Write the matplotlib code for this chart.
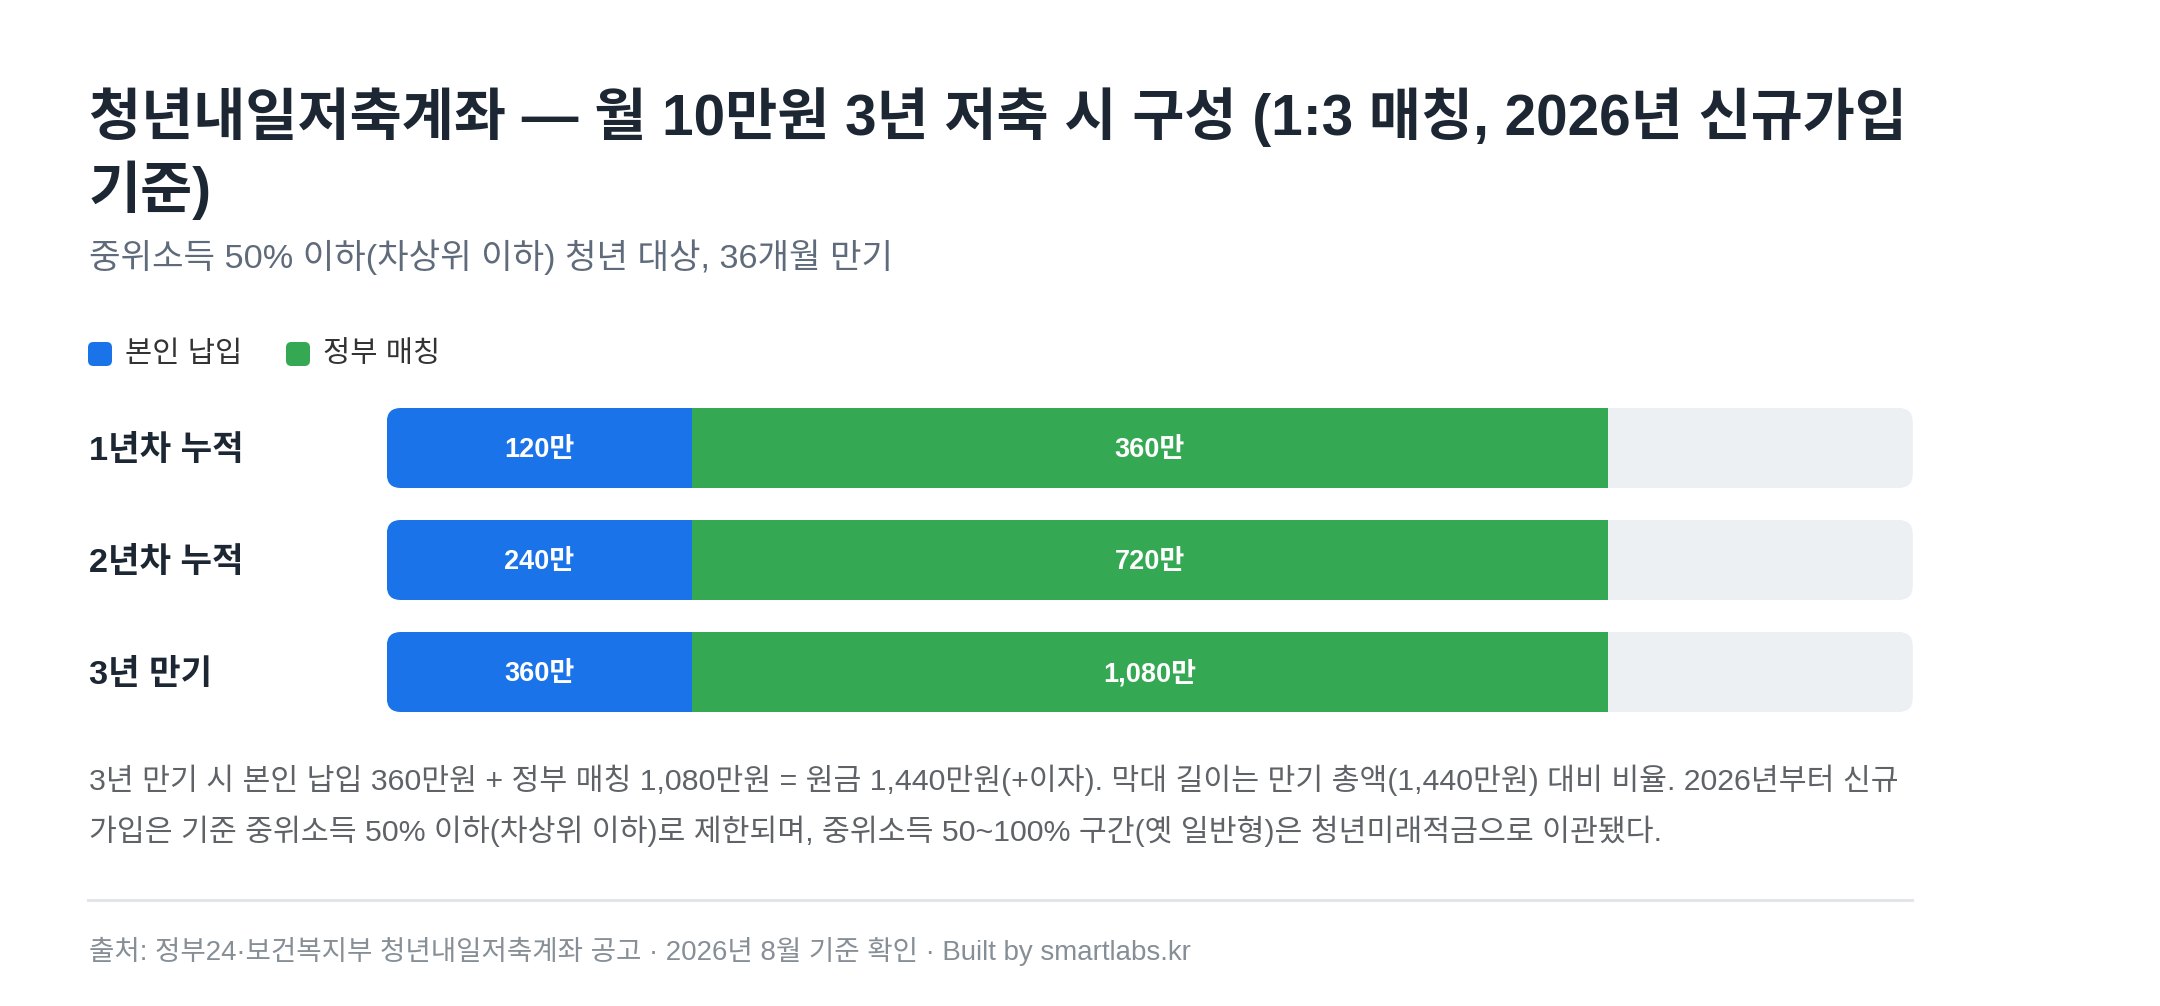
import matplotlib
matplotlib.use("Agg")
import matplotlib.pyplot as plt
from matplotlib.patches import FancyBboxPatch
from matplotlib.transforms import blended_transform_factory

# latin glyphs from Liberation Sans (wider spaces), hangul falls back to Noto Sans CJK KR
plt.rcParams['font.family'] = ['Liberation Sans', 'Noto Sans CJK KR', 'DejaVu Sans']

# data
rows = ["1년차 누적", "2년차 누적", "3년 만기"]
self_amount = ["120만", "240만", "360만"]
gov_amount = ["360만", "720만", "1,080만"]
# segment length as % of the track
self_pct = [20, 20, 20]
gov_pct = [60, 60, 60]
legend_labels = ["본인 납입", "정부 매칭"]

blue = "#1a73e8"
green = "#34a853"
track = "#edf0f3"
dark = "#1c2733"

W, H = 2160, 1006
fig = plt.figure(figsize=(W / 100, H / 100), dpi=100)
fig.patch.set_facecolor("white")

def fx(px):
    return px / W

def fy(py):
    return 1 - py / H

# title, subtitle
fig.text(fx(89), fy(117), "청년내일저축계좌 — 월 10만원 3년 저축 시 구성 (1:3 매칭, 2026년 신규가입",
         fontsize=40.8, fontweight="bold", color=dark, va="center")
fig.text(fx(89), fy(190), "기준)", fontsize=40.8, fontweight="bold", color=dark, va="center")
fig.text(fx(89), fy(257), "중위소득 50% 이하(차상위 이하) 청년 대상, 36개월 만기",
         fontsize=24.7, color="#5f6b7a", va="center")

# legend
lx = [88, 286]
for i in range(2):
    sq = FancyBboxPatch((fx(lx[i]), fy(366)), fx(24), 24 / H,
                        boxstyle="round,pad=0,rounding_size=0.0025",
                        mutation_aspect=W / H,
                        transform=fig.transFigure, facecolor=[blue, green][i],
                        edgecolor="none")
    fig.patches.append(sq)
    fig.text(fx(lx[i] + 37), fy(354), legend_labels[i], fontsize=21.3, color="#333333", va="center")

# bars
x0, x1 = 386.8, 1912.8
top, bot = 392, 728
ax = fig.add_axes([fx(x0), fy(bot), fx(x1 - x0), (bot - top) / H])
ax.set_xlim(0, 100)
ax.set_ylim(len(rows) - 0.5, -0.5)
ax.axis("off")

bar_h = 80 / 112
rx = 14 / ((x1 - x0) / 100)
ry = 14 / 112
trans = blended_transform_factory(fig.transFigure, ax.transData)
for i in range(len(rows)):
    clip = FancyBboxPatch((0, i - bar_h / 2), 100, bar_h,
                          boxstyle="round,pad=0,rounding_size=%f" % rx,
                          mutation_aspect=ry / rx,
                          facecolor=track, edgecolor="none")
    ax.add_patch(clip)
    b1 = ax.barh(i, self_pct[i], height=bar_h, color=blue, left=0)
    b2 = ax.barh(i, gov_pct[i], height=bar_h, color=green, left=self_pct[i])
    for b in list(b1) + list(b2):
        b.set_clip_path(clip)
    ax.text(self_pct[i] / 2, i + 0.02, self_amount[i], color="white", fontsize=19.5,
            fontweight="bold", ha="center", va="center")
    ax.text(self_pct[i] + gov_pct[i] / 2, i + 0.02, gov_amount[i], color="white", fontsize=19.5,
            fontweight="bold", ha="center", va="center")
    ax.text(fx(89), i + 0.03, rows[i], transform=trans, fontsize=24.7, fontweight="bold",
            color=dark, va="center")

# note
fig.text(fx(89), fy(780), "3년 만기 시 본인 납입 360만원 + 정부 매칭 1,080만원 = 원금 1,440만원(+이자). 막대 길이는 만기 총액(1,440만원) 대비 비율. 2026년부터 신규",
         fontsize=21.8, color="#5f6368", va="center")
fig.text(fx(89), fy(831), "가입은 기준 중위소득 50% 이하(차상위 이하)로 제한되며, 중위소득 50~100% 구간(옛 일반형)은 청년미래적금으로 이관됐다.",
         fontsize=21.8, color="#5f6368", va="center")

# separator + footer
fig.add_artist(plt.Line2D([fx(88), fx(1912)], [fy(900), fy(900)], color="#e2e5e9",
                          linewidth=2.2, transform=fig.transFigure))
fig.text(fx(89), fy(951), "출처: 정부24·보건복지부 청년내일저축계좌 공고 · 2026년 8월 기준 확인 · Built by smartlabs.kr",
         fontsize=19.9, color="#868e96", va="center")

fig.savefig("out.png", dpi=100, facecolor="white")
